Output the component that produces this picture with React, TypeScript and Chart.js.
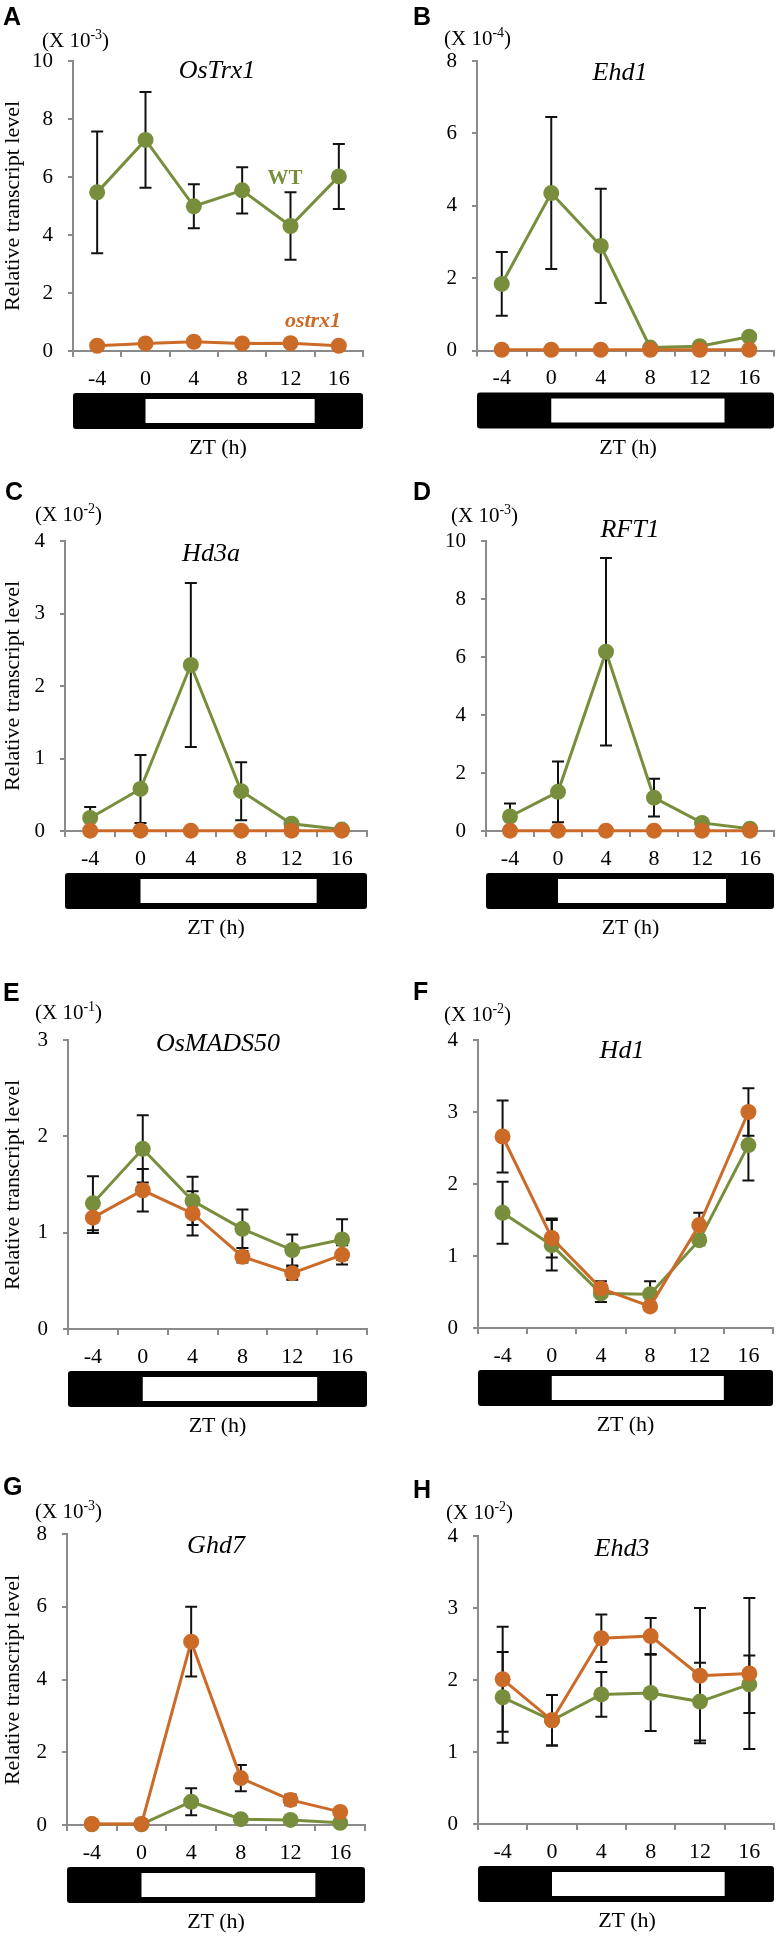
import React, { useEffect, useRef } from 'react';
import { Chart, registerables } from 'chart.js';
Chart.register(...registerables);

// ---------- data ----------
const ztLabels = ['-4', '0', '4', '8', '12', '16'];
const nightSpan = [-6, 18]; // ZT hours (dark bar)
const lightSpan = [0, 14]; // ZT hours (white light period)

const osTrx1WT = [5.47, 7.28, 4.99, 5.54, 4.31, 6.02];
const osTrx1WTErr = [2.1, 1.65, 0.76, 0.8, 1.16, 1.12];
const osTrx1Mut = [0.18, 0.26, 0.32, 0.26, 0.27, 0.18];
const osTrx1MutErr = [0.05, 0.08, 0.14, 0.05, 0.05, 0.04];

const ehd1WT = [1.84, 4.35, 2.89, 0.08, 0.12, 0.38];
const ehd1WTErr = [0.88, 2.1, 1.58, 0.02, 0.05, 0.1];
const ehd1Mut = [0.02, 0.02, 0.02, 0.02, 0.02, 0.02];
const ehd1MutErr = [0, 0, 0, 0, 0, 0];

const hd3aWT = [0.18, 0.58, 2.29, 0.55, 0.1, 0.02];
const hd3aWTErr = [0.15, 0.47, 1.13, 0.4, 0.03, 0.01];
const hd3aMut = [0.005, 0.005, 0.005, 0.005, 0.005, 0.005];
const hd3aMutErr = [0, 0, 0, 0, 0, 0];

const rft1WT = [0.5, 1.35, 6.18, 1.15, 0.28, 0.08];
const rft1WTErr = [0.45, 1.05, 3.23, 0.65, 0.05, 0.02];
const rft1Mut = [0.01, 0.01, 0.01, 0.01, 0.01, 0.01];
const rft1MutErr = [0, 0, 0, 0, 0, 0];

const mads50WT = [1.305, 1.87, 1.33, 1.04, 0.82, 0.93];
const mads50WTErr = [0.28, 0.35, 0.25, 0.2, 0.16, 0.21];
const mads50Mut = [1.156, 1.44, 1.2, 0.75, 0.58, 0.77];
const mads50MutErr = [0.16, 0.22, 0.23, 0.06, 0.07, 0.1];

const hd1WT = [1.6, 1.15, 0.48, 0.47, 1.22, 2.54];
const hd1WTErr = [0.43, 0.35, 0.12, 0.18, 0.07, 0.49];
const hd1Mut = [2.66, 1.25, 0.55, 0.3, 1.43, 3.0];
const hd1MutErr = [0.5, 0.27, 0.1, 0.04, 0.17, 0.33];

const ghd7WT = [0.02, 0.02, 0.64, 0.16, 0.14, 0.06];
const ghd7WTErr = [0, 0, 0.37, 0.03, 0.03, 0.02];
const ghd7Mut = [0.03, 0.03, 5.04, 1.29, 0.69, 0.36];
const ghd7MutErr = [0, 0, 0.96, 0.36, 0.15, 0.05];

const ehd3WT = [1.76, 1.44, 1.8, 1.82, 1.7, 1.94];
const ehd3WTErr = [0.63, 0.35, 0.31, 0.53, 0.54, 0.4];
const ehd3Mut = [2.01, 1.44, 2.58, 2.61, 2.06, 2.09];
const ehd3MutErr = [0.73, 0.35, 0.33, 0.25, 0.94, 1.05];

// ---------- style ----------
const GREEN = '#788e3c';
const ORANGE = '#cc6a28';
const AXIS = '#8a8a8a';
const SERIF = "'Liberation Serif', 'Times New Roman', serif";
const SANS = "'Liberation Sans', Arial, sans-serif";
const CW = 391;
const CH = 460;
const XH = 40;

type Panel = {
  letter: string; gene: string; exp: string;
  col: number; rowTop: number;
  L: number; T: number; R: number; B: number;
  yMax: number; yStep: number;
  wt: number[]; wtErr: number[]; mut: number[]; mutErr: number[];
  yTitle: boolean;
  letterPos: [number, number]; expPos: [number, number]; genePos: [number, number];
};

const panels: Panel[] = [
  { letter: 'A', gene: 'OsTrx1', exp: '-3', col: 0, rowTop: 0, L: 73, T: 61, R: 363, B: 351, yMax: 10, yStep: 2,
    wt: osTrx1WT, wtErr: osTrx1WTErr, mut: osTrx1Mut, mutErr: osTrx1MutErr, yTitle: true,
    letterPos: [3, 7], expPos: [42, 40], genePos: [217, 70] },
  { letter: 'B', gene: 'Ehd1', exp: '-4', col: 1, rowTop: 0, L: 477, T: 61, R: 779, B: 350.5, yMax: 8, yStep: 2,
    wt: ehd1WT, wtErr: ehd1WTErr, mut: ehd1Mut, mutErr: ehd1MutErr, yTitle: false,
    letterPos: [413, 7], expPos: [444, 38], genePos: [620, 72] },
  { letter: 'C', gene: 'Hd3a', exp: '-2', col: 0, rowTop: 480, L: 65, T: 541, R: 367, B: 831, yMax: 4, yStep: 1,
    wt: hd3aWT, wtErr: hd3aWTErr, mut: hd3aMut, mutErr: hd3aMutErr, yTitle: true,
    letterPos: [5, 482], expPos: [35, 514], genePos: [211, 553] },
  { letter: 'D', gene: 'RFT1', exp: '-3', col: 1, rowTop: 480, L: 486, T: 541, R: 775, B: 831, yMax: 10, yStep: 2,
    wt: rft1WT, wtErr: rft1WTErr, mut: rft1Mut, mutErr: rft1MutErr, yTitle: false,
    letterPos: [413, 482], expPos: [451, 515], genePos: [630, 529] },
  { letter: 'E', gene: 'OsMADS50', exp: '-1', col: 0, rowTop: 979, L: 68, T: 1040, R: 367, B: 1329, yMax: 3, yStep: 1,
    wt: mads50WT, wtErr: mads50WTErr, mut: mads50Mut, mutErr: mads50MutErr, yTitle: true,
    letterPos: [3, 983], expPos: [35, 1012], genePos: [218, 1043] },
  { letter: 'F', gene: 'Hd1', exp: '-2', col: 1, rowTop: 979, L: 478, T: 1040, R: 773, B: 1328, yMax: 4, yStep: 1,
    wt: hd1WT, wtErr: hd1WTErr, mut: hd1Mut, mutErr: hd1MutErr, yTitle: false,
    letterPos: [413, 982], expPos: [444, 1014], genePos: [622, 1050] },
  { letter: 'G', gene: 'Ghd7', exp: '-3', col: 0, rowTop: 1474, L: 67, T: 1534, R: 365, B: 1825, yMax: 8, yStep: 2,
    wt: ghd7WT, wtErr: ghd7WTErr, mut: ghd7Mut, mutErr: ghd7MutErr, yTitle: true,
    letterPos: [3, 1477], expPos: [35, 1511], genePos: [216, 1545] },
  { letter: 'H', gene: 'Ehd3', exp: '-2', col: 1, rowTop: 1474, L: 478, T: 1536, R: 776, B: 1824, yMax: 4, yStep: 1,
    wt: ehd3WT, wtErr: ehd3WTErr, mut: ehd3Mut, mutErr: ehd3MutErr, yTitle: false,
    letterPos: [413, 1480], expPos: [446, 1512], genePos: [622, 1548] },
];

const hourToIndex = (h: number) => (h + 4) / 4;

const decorPlugin = {
  id: 'decor',
  beforeDatasetsDraw(chart: any) {
    const { ctx } = chart;
    const y = chart.scales.y;
    ctx.save();
    ctx.strokeStyle = '#111';
    ctx.lineWidth = 2;
    chart.data.datasets.forEach((ds: any, i: number) => {
      const meta = chart.getDatasetMeta(i);
      meta.data.forEach((pt: any, j: number) => {
        const v = ds.data[j];
        const e = ds.errors ? ds.errors[j] : 0;
        if (!e) return;
        const yt = y.getPixelForValue(v + e);
        const yb = y.getPixelForValue(v - e);
        ctx.beginPath();
        ctx.moveTo(pt.x, yt); ctx.lineTo(pt.x, yb);
        ctx.moveTo(pt.x - 6, yt); ctx.lineTo(pt.x + 6, yt);
        ctx.moveTo(pt.x - 6, yb); ctx.lineTo(pt.x + 6, yb);
        ctx.stroke();
      });
    });
    ctx.restore();
  },
  afterDraw(chart: any) {
    const { ctx, chartArea } = chart;
    const x = chart.scales.x;
    const top = chartArea.bottom + 42;
    const h = 36;
    const nl = x.getPixelForValue(hourToIndex(nightSpan[0]));
    const nr = x.getPixelForValue(hourToIndex(nightSpan[1]));
    const wl = x.getPixelForValue(hourToIndex(lightSpan[0]));
    const wr = x.getPixelForValue(hourToIndex(lightSpan[1]));
    ctx.save();
    ctx.fillStyle = '#000';
    ctx.beginPath();
    ctx.roundRect(nl, top, nr - nl, h, 3);
    ctx.fill();
    ctx.fillStyle = '#fff';
    ctx.fillRect(wl, top + 6, wr - wl, h - 12);
    ctx.restore();
  },
};

function PanelChart({ p }: { p: Panel }) {
  const ref = useRef<HTMLCanvasElement>(null);
  const cx = p.col * 391;
  const cy = p.rowTop;
  useEffect(() => {
    if (!ref.current) return;
    const chart = new Chart(ref.current, {
      type: 'line',
      data: {
        labels: ztLabels,
        datasets: [
          { label: 'WT', data: p.wt, errors: p.wtErr, borderColor: GREEN, backgroundColor: GREEN,
            pointBackgroundColor: GREEN, pointBorderWidth: 0, pointRadius: 8, borderWidth: 3, order: 2, clip: false } as any,
          { label: 'ostrx1', data: p.mut, errors: p.mutErr, borderColor: ORANGE, backgroundColor: ORANGE,
            pointBackgroundColor: ORANGE, pointBorderWidth: 0, pointRadius: 8, borderWidth: 3, order: 1, clip: false } as any,
        ],
      },
      options: {
        responsive: false,
        animation: false,
        devicePixelRatio: 1,
        events: [],
        layout: {
          padding: { left: 0, top: p.T - cy, right: CW - (p.R - cx), bottom: CH - (p.B - cy) - XH },
        },
        plugins: { legend: { display: false }, tooltip: { enabled: false } },
        scales: {
          x: {
            type: 'category',
            offset: true,
            grid: { offset: true, drawOnChartArea: false, drawTicks: true, tickLength: 6, color: AXIS, lineWidth: 2 },
            border: { display: true, color: AXIS, width: 2 },
            ticks: { color: '#000', font: { family: SERIF, size: 22 }, padding: 9, maxRotation: 0 },
            afterFit: (s: any) => { s.height = XH; },
          },
          y: {
            min: 0, max: p.yMax,
            grid: { drawOnChartArea: false, drawTicks: true, tickLength: 5, color: AXIS, lineWidth: 2 },
            border: { display: true, color: AXIS, width: 2 },
            ticks: { stepSize: p.yStep, color: '#000', font: { family: SERIF, size: 21 }, padding: 15 },
            afterFit: (s: any) => { s.width = p.L - cx; },
          },
        },
      },
      plugins: [decorPlugin],
    } as any);
    return () => chart.destroy();
  }, []);
  return (
    <canvas ref={ref} width={CW} height={CH}
      style={{ position: 'absolute', left: cx, top: cy, width: CW, height: CH }} />
  );
}

function PanelText({ p }: { p: Panel }) {
  const abs: React.CSSProperties = { position: 'absolute', lineHeight: 1, whiteSpace: 'nowrap' };
  return (
    <>
      <div style={{ ...abs, left: p.letterPos[0], top: p.letterPos[1] - 3, fontFamily: SANS, fontWeight: 'bold', fontSize: 25 }}>
        {p.letter}
      </div>
      <div style={{ ...abs, left: p.expPos[0], top: p.expPos[1], transform: 'translateY(-50%)', fontFamily: SERIF, fontSize: 21 }}>
        (X 10<span style={{ position: 'relative', top: -8, fontSize: 14 }}>{p.exp}</span>)
      </div>
      <div style={{ ...abs, left: p.genePos[0], top: p.genePos[1], transform: 'translate(-50%, -50%)', fontFamily: SERIF, fontStyle: 'italic', fontSize: 26 }}>
        {p.gene}
      </div>
      {p.yTitle && (
        <div style={{ ...abs, left: 12, top: (p.T + p.B) / 2, transform: 'translate(-50%, -50%) rotate(-90deg)', fontFamily: SERIF, fontSize: 22 }}>
          Relative transcript level
        </div>
      )}
      <div style={{ ...abs, left: (p.L + p.R) / 2, top: p.B + 96, transform: 'translate(-50%, -50%)', fontFamily: SERIF, fontSize: 22 }}>
        ZT (h)
      </div>
    </>
  );
}

export default function App() {
  return (
    <div style={{ position: 'absolute', left: 0, top: 0, width: 782, height: 1936, overflow: 'hidden', background: '#fff' }}>
      {panels.map((p) => <PanelChart key={p.letter} p={p} />)}
      {panels.map((p) => <PanelText key={'t' + p.letter} p={p} />)}
      <div style={{ position: 'absolute', left: 285, top: 177, transform: 'translate(-50%, -50%)', lineHeight: 1,
        fontFamily: SERIF, fontWeight: 'bold', fontSize: 21, color: GREEN }}>WT</div>
      <div style={{ position: 'absolute', left: 313, top: 320, transform: 'translate(-50%, -50%)', lineHeight: 1,
        fontFamily: SERIF, fontWeight: 'bold', fontStyle: 'italic', fontSize: 22, color: ORANGE }}>ostrx1</div>
    </div>
  );
}
